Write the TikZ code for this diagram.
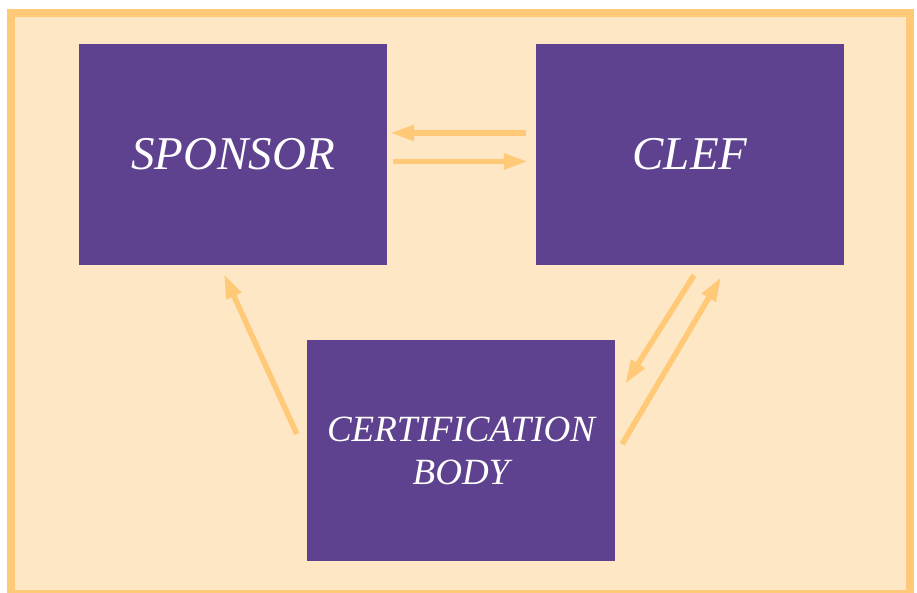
\documentclass[tikz,border=0pt]{standalone}
\usepackage{fontspec}
\setmainfont{Liberation Serif}
\usetikzlibrary{arrows.meta}
\definecolor{boxpurple}{HTML}{5E418F}
\definecolor{peach}{HTML}{FDE7C5}
\definecolor{arrowyellow}{HTML}{FFC977}

\begin{document}
\begin{tikzpicture}[x=1pt, y=1pt,
    box/.style={rectangle, fill=boxpurple, text=white, minimum width=308pt, minimum height=221pt, inner sep=0pt, font=\itshape\fontsize{47}{52}\selectfont},
    arr/.style={-{Triangle[length=24pt, width=15pt]}, line width=5.5pt, draw=arrowyellow}]
      \useasboundingbox (0,0) rectangle (917,593);
      \clip (0,0) rectangle (917,593);
      \draw[line width=8pt, draw=arrowyellow, fill=peach] (11,-1) rectangle (910,580);
      \node[box] (sponsor) at (233,438.5) {SPONSOR};
      \node[box] (clef) at (690,438.5) {CLEF};
      \node[box, align=center, font=\itshape\fontsize{37}{43}\selectfont] (cert) at (461,142.5) {CERTIFICATION\\BODY};
      \draw[arr] ([xshift=-10pt, yshift=21.5pt]clef.west) -- ([xshift=3pt, yshift=21.5pt]sponsor.east);
      \draw[arr] ([xshift=6pt, yshift=-7pt]sponsor.east) -- ([xshift=-8pt, yshift=-7pt]clef.west);
      \draw[arr] ([xshift=-10pt, yshift=16.5pt]cert.west) -- ([xshift=-9pt, yshift=-9pt]sponsor.south);
      \draw[arr] ([xshift=4pt, yshift=-10pt]clef.south) -- ([xshift=10pt, yshift=66.5pt]cert.east);
      \draw[arr] ([xshift=7pt, yshift=6.5pt]cert.east) -- ([xshift=31pt, yshift=-12pt]clef.south);
    \end{tikzpicture}
\end{document}
